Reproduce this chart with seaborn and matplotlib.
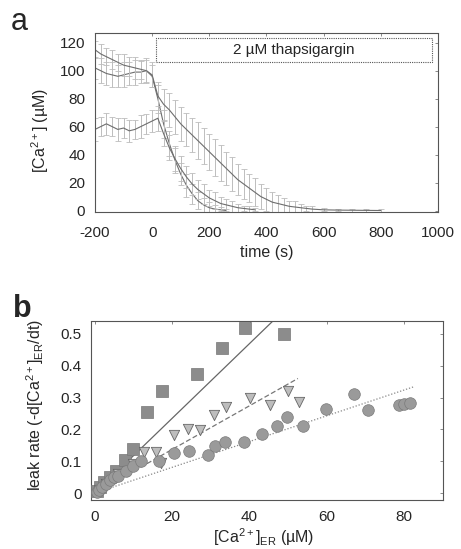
import matplotlib

matplotlib.use("Agg")
import matplotlib.pyplot as plt
import matplotlib.patches as mpatches
import pandas as pd
import seaborn as sns

# panel a: ER calcium traces (time in s, [Ca2+] in uM, error bar half-width)
T_FAST = [-200, -180, -160, -140, -120, -100, -80, -60, -40, -20, 0, 20, 40, 60, 80,
          100, 120, 140, 160, 180, 200, 220, 240, 260]
CA_FAST = [102, 100, 98, 97, 96, 97, 98, 99, 99, 100, 96, 80, 62, 48, 36,
           26, 18, 12, 7, 4, 2, 1, 0.5, 0]
ERR_FAST = [8, 9, 8, 9, 8, 9, 8, 9, 8, 9, 8, 10, 10, 9, 9,
            8, 8, 7, 6, 5, 4, 3, 2, 1]

T_SLOW = [-200, -180, -160, -140, -120, -100, -80, -60, -40, -20, 0, 20, 40, 60, 80,
          100, 120, 140, 160, 180, 200, 220, 240, 260, 280, 300, 320, 340, 360, 380,
          400, 420, 440, 460, 480, 500, 520, 540, 560, 600, 650, 700, 750, 800]
CA_SLOW = [115, 112, 110, 108, 106, 104, 103, 102, 101, 100, 97, 82, 76, 72, 67,
           62, 58, 54, 50, 46, 42, 38, 34, 30, 26, 22, 19, 16, 13, 10,
           8, 6, 5, 4, 3, 2.5, 2, 1.5, 1, 0.5, 0.3, 0.2, 0.1, 0]
ERR_SLOW = [6, 7, 6, 7, 6, 8, 7, 8, 7, 8, 9, 10, 11, 12, 12,
            12, 12, 12, 13, 13, 13, 13, 13, 12, 12, 11, 11, 10, 10, 9,
            8, 7, 6, 5, 4, 4, 3, 2, 2, 1, 1, 1, 1, 1]

T_LOW = [-200, -180, -160, -140, -120, -100, -80, -60, -40, -20, 0, 20, 40, 60, 80,
         100, 120, 140, 160, 180, 200, 220, 240, 260, 280, 300, 320, 340, 360]
CA_LOW = [58, 60, 62, 60, 58, 59, 57, 58, 60, 62, 64, 66, 55, 45, 37,
          30, 24, 19, 15, 12, 9, 7, 5, 4, 3, 2, 1.5, 1, 0.5]
ERR_LOW = [8, 7, 8, 7, 8, 7, 8, 7, 8, 7, 8, 9, 9, 9, 9,
           9, 8, 8, 7, 7, 6, 6, 5, 4, 4, 3, 2, 2, 1]

# panel b: leak rate vs [Ca2+]ER
SQ_X = [0.5, 1.5, 2.5, 4, 5.5, 7.8, 9.8, 13.6, 17.5, 26.4, 32.8, 38.9, 48.9]
SQ_Y = [0.008, 0.02, 0.035, 0.05, 0.07, 0.104, 0.14, 0.256, 0.32, 0.373, 0.457, 0.52, 0.50]
TRI_X = [1, 3, 6, 8.6, 10, 12.8, 15.8, 17.1, 20.5, 24, 27.2, 30.9, 33.9, 40, 45.2, 49.9, 52.9]
TRI_Y = [0.01, 0.03, 0.06, 0.068, 0.09, 0.13, 0.13, 0.095, 0.183, 0.2, 0.197, 0.246,
         0.27, 0.30, 0.277, 0.32, 0.285]
CIR_X = [0.5, 1, 2, 3, 4, 5, 6, 8, 10, 12, 16.7, 20.5, 24.4, 29.2, 31, 33.7, 38.7,
         43.2, 47.1, 49.7, 53.8, 59.8, 67, 70.6, 78.6, 80, 81.5]
CIR_Y = [0.005, 0.01, 0.02, 0.03, 0.04, 0.05, 0.055, 0.07, 0.085, 0.1, 0.10, 0.126,
         0.131, 0.12, 0.147, 0.16, 0.162, 0.186, 0.21, 0.24, 0.21, 0.265, 0.31, 0.262,
         0.276, 0.28, 0.282]

FIT_SQ = ([0, 46], [0, 0.54])
FIT_TRI = ([0, 52.5], [0, 0.36])
FIT_CIR = ([0, 82.7], [0, 0.335])

GRAY = "#8c8c8c"
LIGHT = "#bdbdbd"


def style_axes(ax, xpad, ypad):
    for sp in ax.spines.values():
        sp.set_linestyle((0, (1, 1)))
        sp.set_color("#555555")
        sp.set_linewidth(0.8)
    ax.tick_params(direction="in", top=True, right=True, length=2.5, width=0.6,
                   color="#777777", labelsize=11)
    ax.tick_params(axis="x", pad=xpad)
    ax.tick_params(axis="y", pad=ypad)


def main() -> None:
    sns.set_style("white")
    plt.rcParams["font.family"] = ["Liberation Sans", "DejaVu Sans"]
    plt.rcParams["axes.unicode_minus"] = False
    plt.rcParams["mathtext.fontset"] = "custom"
    plt.rcParams["mathtext.rm"] = "Liberation Sans"
    plt.rcParams["mathtext.it"] = "Liberation Sans"

    fig = plt.figure(figsize=(4.61, 5.49), dpi=100)
    ax_a = fig.add_axes([0.206, 0.614, 0.744, 0.326])
    ax_b = fig.add_axes([0.197, 0.089, 0.764, 0.326])

    # panel a
    traces = [(T_FAST, CA_FAST, ERR_FAST), (T_SLOW, CA_SLOW, ERR_SLOW), (T_LOW, CA_LOW, ERR_LOW)]
    for t, ca, err in traces:
        ax_a.errorbar(t, ca, yerr=err, fmt="none", ecolor=LIGHT, elinewidth=0.7,
                      capsize=2, capthick=0.6, linestyle=(0, (1, 1)))
        df = pd.DataFrame({"t": t, "ca": ca})
        sns.lineplot(data=df, x="t", y="ca", ax=ax_a, color="#6e6e6e", linewidth=0.8)
    ax_a.set_xlim(-200, 1000)
    ax_a.set_ylim(-1, 127)
    ax_a.set_xticks([-200, 0, 200, 400, 600, 800, 1000])
    ax_a.set_yticks([0, 20, 40, 60, 80, 100, 120])
    ax_a.set_xlabel("time (s)", fontsize=11.5, va="center")
    ax_a.set_ylabel("[Ca$^{2+}$] (\u00b5M)", fontsize=11.5, va="center")
    ax_a.xaxis.set_label_coords(0.5, -0.229)
    ax_a.yaxis.set_label_coords(-0.160, 0.458)
    style_axes(ax_a, 10, 7)
    box = mpatches.Rectangle((0.178, 0.838), 0.805, 0.134, transform=ax_a.transAxes,
                             facecolor="white", edgecolor="#555555", linewidth=0.8,
                             linestyle=(0, (1, 1)), zorder=5)
    ax_a.add_patch(box)
    ax_a.text(0.58, 0.905, "2 \u00b5M thapsigargin", transform=ax_a.transAxes,
              ha="center", va="center", fontsize=11, zorder=6)
    fig.text(0.024, 0.988, "a", fontsize=22, va="top")

    # panel b
    ax_b.plot(*FIT_SQ, color="#666666", linewidth=0.9)
    ax_b.plot(*FIT_TRI, color="#777777", linewidth=0.9, linestyle=(0, (4, 2)))
    ax_b.plot(*FIT_CIR, color="#888888", linewidth=0.9, linestyle=(0, (1, 1.5)))
    sns.scatterplot(x=SQ_X, y=SQ_Y, ax=ax_b, marker="s", s=70, color=GRAY,
                    edgecolor="#777777", linewidth=0.5, zorder=3)
    sns.scatterplot(x=TRI_X, y=TRI_Y, ax=ax_b, marker="v", s=55, color=LIGHT,
                    edgecolor="#666666", linewidth=0.6, zorder=3)
    sns.scatterplot(x=CIR_X, y=CIR_Y, ax=ax_b, marker="o", s=70, color="#9a9a9a",
                    edgecolor="#7a7a7a", linewidth=0.5, zorder=3)
    ax_b.set_xlim(-1, 90)
    ax_b.set_ylim(-0.022, 0.54)
    ax_b.set_xticks([0, 20, 40, 60, 80])
    ax_b.set_yticks([0, 0.1, 0.2, 0.3, 0.4, 0.5])
    ax_b.set_yticklabels(["0", "0.1", "0.2", "0.3", "0.4", "0.5"])
    ax_b.set_xlabel("[Ca$^{2+}$]$_{\\mathrm{ER}}$ (\u00b5M)", fontsize=11.5, va="center")
    ax_b.set_ylabel("leak rate (-d[Ca$^{2+}$]$_{\\mathrm{ER}}$/dt)", fontsize=11.5, va="center")
    ax_b.xaxis.set_label_coords(0.49, -0.205)
    ax_b.yaxis.set_label_coords(-0.158, 0.53)
    style_axes(ax_b, 7, 6.5)
    fig.text(0.028, 0.465, "b", fontsize=22, va="top", fontweight="bold")

    fig.savefig("out.png", dpi=100)
    plt.close(fig)


if __name__ == "__main__":
    main()
